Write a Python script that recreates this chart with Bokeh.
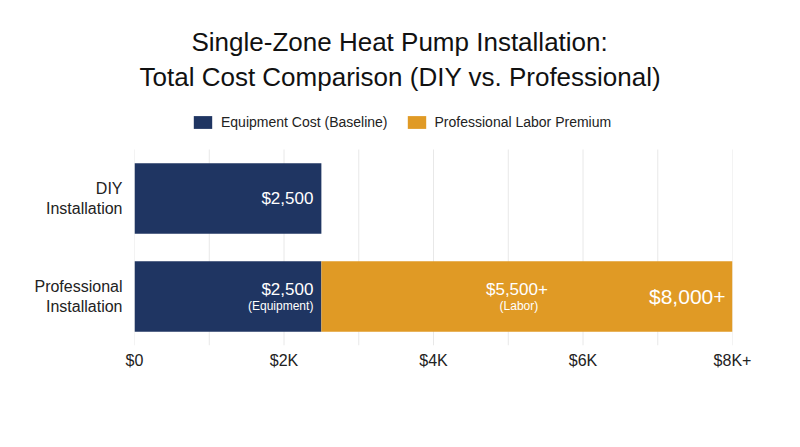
from bokeh.plotting import figure
from bokeh.models import ColumnDataSource, FixedTicker, Legend, LegendItem, Title, Range1d
from bokeh.core.properties import value
from bokeh.embed import file_html
from bokeh.resources import INLINE

# ---- data ----
categories = ["DIY\nInstallation", "Professional\nInstallation"]
equipment = [2500, 2500]
labor = [0, 5500]
series_names = ["Equipment Cost (Baseline)", "Professional Labor Premium"]
tick_values = [0, 1000, 2000, 3000, 4000, 5000, 6000, 7000, 8000]
tick_labels = {0: "$0", 1000: "", 2000: "$2K", 3000: "", 4000: "$4K", 5000: "", 6000: "$6K", 7000: "", 8000: "$8K+"}
title_lines = ["Single-Zone Heat Pump Installation:", "Total Cost Comparison (DIY vs. Professional)"]
equip_main = ["$2,500", "$2,500"]
equip_sub = ["", "(Equipment)"]
labor_main = ["", "$5,500+"]
labor_sub = ["", "(Labor)"]
total_label = ["", "$8,000+"]

NAVY = "#1f3562"
ORANGE = "#e09a25"
FONT = "Liberation Sans"

n = len(categories)
ypos = [n - 1 - i for i in range(n)]          # first category on top
totals = [e + l for e, l in zip(equipment, labor)]
src = ColumnDataSource(dict(
    y=ypos, equipment=equipment, labor=labor, total=totals,
    labor_mid=[e + l / 2 for e, l in zip(equipment, labor)],
    equip_main=equip_main, equip_sub=equip_sub,
    main_off=[0 if s == "" else -7.5 for s in equip_sub],
    labor_main=labor_main, labor_sub=labor_sub, total_label=total_label,
))

FRAME_H = 252
BAND = 98
p = figure(
    frame_width=598, frame_height=FRAME_H,
    y_range=Range1d(-0.5, -0.5 + FRAME_H / BAND),
    x_range=(0, 8000),
    output_backend="svg", toolbar_location=None,
    min_border_left=134, min_border_right=58, min_border_top=0, min_border_bottom=80,
    title=None,
)
p.outline_line_color = None
p.background_fill_color = "white"
p.border_fill_color = "white"

# grid lines (one per x tick, spanning the category bands)
grid_src = ColumnDataSource(dict(x=tick_values, y0=[-0.5] * len(tick_values),
                                 y1=[n - 0.5] * len(tick_values)))
p.segment(x0="x", y0="y0", x1="x", y1="y1", source=grid_src, line_color="#e8e8e8", line_width=1)

renderers = p.hbar_stack(["equipment", "labor"], y="y", height=0.72, source=src,
                         color=[NAVY, ORANGE], line_color=None)

legend = Legend(items=[LegendItem(label=series_names[i], renderers=[renderers[i]]) for i in range(2)],
                orientation="horizontal", location=(57, 215),
                glyph_width=23, glyph_height=16, label_standoff=7, spacing=17,
                label_text_font=FONT, label_text_font_size="14px", label_text_color="#222222",
                border_line_color=None, background_fill_alpha=0, padding=0, margin=0)
p.add_layout(legend, "center")

title_offsets = [57, 5]
title_standoffs = [1, 4]
for line, off, so in reversed(list(zip(title_lines, title_offsets, title_standoffs))):
    t = Title(text=line, align="left", offset=off, text_font=FONT, text_font_size="26px",
              text_font_style="normal", text_color="#111111", standoff=so)
    p.add_layout(t, "above")
# top spacer above the title block
p.add_layout(Title(text=" ", text_font_size="1px", standoff=21), "above")

# labels
p.text(x="equipment", y="y", text="equip_main", source=src, x_offset=-8, y_offset="main_off",
       text_align="right", text_baseline="middle", text_color="white",
       text_font=value(FONT), text_font_size="17px")
p.text(x="equipment", y="y", text="equip_sub", source=src, x_offset=-8, y_offset=9.5,
       text_align="right", text_baseline="middle", text_color="white",
       text_font=value(FONT), text_font_size="12px")
p.text(x="labor_mid", y="y", text="labor_main", source=src, x_offset=-10, y_offset=-7.5,
       text_align="center", text_baseline="middle", text_color="white",
       text_font=value(FONT), text_font_size="17px")
p.text(x="labor_mid", y="y", text="labor_sub", source=src, x_offset=-8, y_offset=9.5,
       text_align="center", text_baseline="middle", text_color="white",
       text_font=value(FONT), text_font_size="12px")
p.text(x="total", y="y", text="total_label", source=src, x_offset=-7, y_offset=0,
       text_align="right", text_baseline="middle", text_color="white",
       text_font=value(FONT), text_font_size="21px")

# axes
p.xaxis.ticker = FixedTicker(ticks=tick_values)
p.xaxis.major_label_overrides = tick_labels
p.xaxis.axis_line_color = None
p.xaxis.major_tick_line_color = None
p.xaxis.minor_tick_line_color = None
p.xaxis.major_tick_out = 0
p.xaxis.major_tick_in = 0
p.xaxis.major_label_text_font = FONT
p.xaxis.major_label_text_font_size = "16px"
p.xaxis.major_label_text_color = "#222222"
p.xaxis.major_label_standoff = 6

p.yaxis.ticker = FixedTicker(ticks=ypos)
p.yaxis.major_label_overrides = {y: c for y, c in zip(ypos, categories)}
p.yaxis.axis_line_color = None
p.yaxis.major_tick_line_color = None
p.yaxis.minor_tick_line_color = None
p.yaxis.major_tick_out = 0
p.yaxis.major_tick_in = 0
p.yaxis.major_label_text_font = FONT
p.yaxis.major_label_text_font_size = "16px"
p.yaxis.major_label_text_color = "#222222"
p.yaxis.major_label_standoff = 12

p.xgrid.visible = False
p.ygrid.visible = False

open("out.html", "w").write(file_html(p, INLINE))
